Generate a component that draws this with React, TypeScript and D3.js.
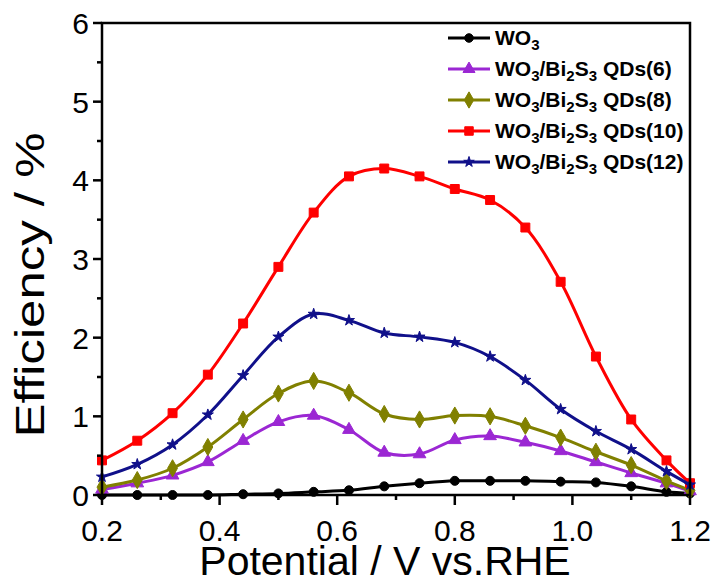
import React from "react";
import * as d3 from "d3";

const potentials = [0.2, 0.26, 0.32, 0.38, 0.44, 0.5, 0.56, 0.62, 0.68, 0.74, 0.8, 0.86, 0.92, 0.98, 1.04, 1.1, 1.16, 1.2];
const wo3 = [0, 0, 0, 0, 0.01, 0.02, 0.04, 0.06, 0.11, 0.15, 0.18, 0.18, 0.18, 0.17, 0.16, 0.11, 0.04, 0.02];
const qd6 = [0.07, 0.15, 0.25, 0.42, 0.69, 0.93, 1.01, 0.83, 0.54, 0.52, 0.7, 0.75, 0.67, 0.56, 0.42, 0.28, 0.15, 0.05];
const qd8 = [0.1, 0.19, 0.34, 0.61, 0.96, 1.29, 1.45, 1.3, 1.03, 0.96, 1.01, 1.0, 0.88, 0.73, 0.55, 0.38, 0.18, 0.06];
const qd10 = [0.44, 0.69, 1.04, 1.53, 2.18, 2.9, 3.59, 4.05, 4.15, 4.05, 3.89, 3.75, 3.4, 2.71, 1.76, 0.96, 0.44, 0.15];
const qd12 = [0.23, 0.39, 0.64, 1.02, 1.52, 2.01, 2.3, 2.22, 2.06, 2.01, 1.94, 1.76, 1.46, 1.09, 0.81, 0.58, 0.3, 0.13];

const xTicks = [0.2, 0.4, 0.6, 0.8, 1.0, 1.2];
const xMinor = [0.3, 0.5, 0.7, 0.9, 1.1];
const yTicks = [0, 1, 2, 3, 4, 5, 6];
const yMinor = [0.5, 1.5, 2.5, 3.5, 4.5, 5.5];

type Series = { key: string; n: string | null; values: number[]; color: string; symbol: d3.SymbolType; size: number };

const series: Series[] = [
  { key: "wo3", n: null, values: wo3, color: "#000000", symbol: d3.symbolCircle, size: 64 },
  { key: "qd6", n: "6", values: qd6, color: "#9b27d3", symbol: d3.symbolTriangle, size: 70 },
  { key: "qd8", n: "8", values: qd8, color: "#808000", symbol: d3.symbolDiamond, size: 85 },
  { key: "qd10", n: "10", values: qd10, color: "#ff0000", symbol: d3.symbolSquare, size: 80 },
  { key: "qd12", n: "12", values: qd12, color: "#10108a", symbol: d3.symbolStar, size: 38 },
];

const FONT = "'Liberation Sans', Arial, sans-serif";

export default function App() {
  const W = 714, H = 581;
  const left = 102, right = 690, top = 23, bottom = 495;
  const x = d3.scaleLinear().domain([0.2, 1.2]).range([left, right]);
  const y = d3.scaleLinear().domain([0, 6]).range([bottom, top]);
  const line = d3
    .line<number>()
    .x((_, i) => x(potentials[i]))
    .y((d) => y(d))
    .curve(d3.curveCatmullRom.alpha(0.5));

  const legendX0 = 448, legendX1 = 490, legendY0 = 38, legendDy = 31;

  const label = (n: string | null) => {
    if (n === null)
      return (
        <>
          WO<tspan fontSize={15} dy={5}>3</tspan>
        </>
      );
    return (
      <>
        WO<tspan fontSize={15} dy={5}>3</tspan>
        <tspan dy={-5}>/Bi</tspan>
        <tspan fontSize={15} dy={5}>2</tspan>
        <tspan dy={-5}>S</tspan>
        <tspan fontSize={15} dy={5}>3</tspan>
        <tspan dy={-5}>{` QDs(${n})`}</tspan>
      </>
    );
  };

  return (
    <svg width={W} height={H} style={{ position: "absolute", left: 0, top: 0, background: "#fff" }} fontFamily={FONT}>
      {series.map((s) => (
        <g key={s.key}>
          <path d={line(s.values) || ""} fill="none" stroke={s.color} strokeWidth={3} />
          {s.values.map((v, i) => (
            <path
              key={i}
              d={d3.symbol().type(s.symbol).size(s.size)() || ""}
              transform={`translate(${x(potentials[i])},${y(v)})`}
              fill={s.color}
              stroke={s.color}
              strokeWidth={1}
            />
          ))}
        </g>
      ))}

      <rect x={left} y={top} width={right - left} height={bottom - top} fill="none" stroke="#000" strokeWidth={2.5} />

      {xTicks.map((t) => (
        <g key={t}>
          <line x1={x(t)} x2={x(t)} y1={bottom} y2={bottom + 10} stroke="#000" strokeWidth={2.5} />
          <text x={x(t)} y={541} textAnchor="middle" fontSize={30}>
            {t.toFixed(1)}
          </text>
        </g>
      ))}
      {xMinor.map((t) => (
        <line key={t} x1={x(t)} x2={x(t)} y1={bottom} y2={bottom + 5} stroke="#000" strokeWidth={2.5} />
      ))}

      {yTicks.map((t) => (
        <g key={t}>
          <line x1={left - 9} x2={left} y1={y(t)} y2={y(t)} stroke="#000" strokeWidth={2.5} />
          <text x={89} y={y(t) + 11} textAnchor="end" fontSize={30}>
            {t}
          </text>
        </g>
      ))}
      {yMinor.map((t) => (
        <line key={t} x1={left - 5} x2={left} y1={y(t)} y2={y(t)} stroke="#000" strokeWidth={2.5} />
      ))}

      <text x={385} y={575} textAnchor="middle" fontSize={41}>
        Potential / V vs.RHE
      </text>
      <text
        transform={`translate(44,${285}) rotate(-90)`}
        textAnchor="middle"
        fontSize={40}
        textLength={305}
        lengthAdjust="spacingAndGlyphs"
      >
        Efficiency / %
      </text>

      {series.map((s, i) => {
        const ly = legendY0 + i * legendDy;
        return (
          <g key={s.key}>
            <line x1={legendX0} x2={legendX1} y1={ly} y2={ly} stroke={s.color} strokeWidth={3} />
            <path
              d={d3.symbol().type(s.symbol).size(s.size * 0.9)() || ""}
              transform={`translate(${(legendX0 + legendX1) / 2},${ly})`}
              fill={s.color}
              stroke={s.color}
              strokeWidth={1}
            />
            <text x={495} y={ly + 7} fontSize={21} fontWeight="bold">
              {label(s.n)}
            </text>
          </g>
        );
      })}
    </svg>
  );
}
